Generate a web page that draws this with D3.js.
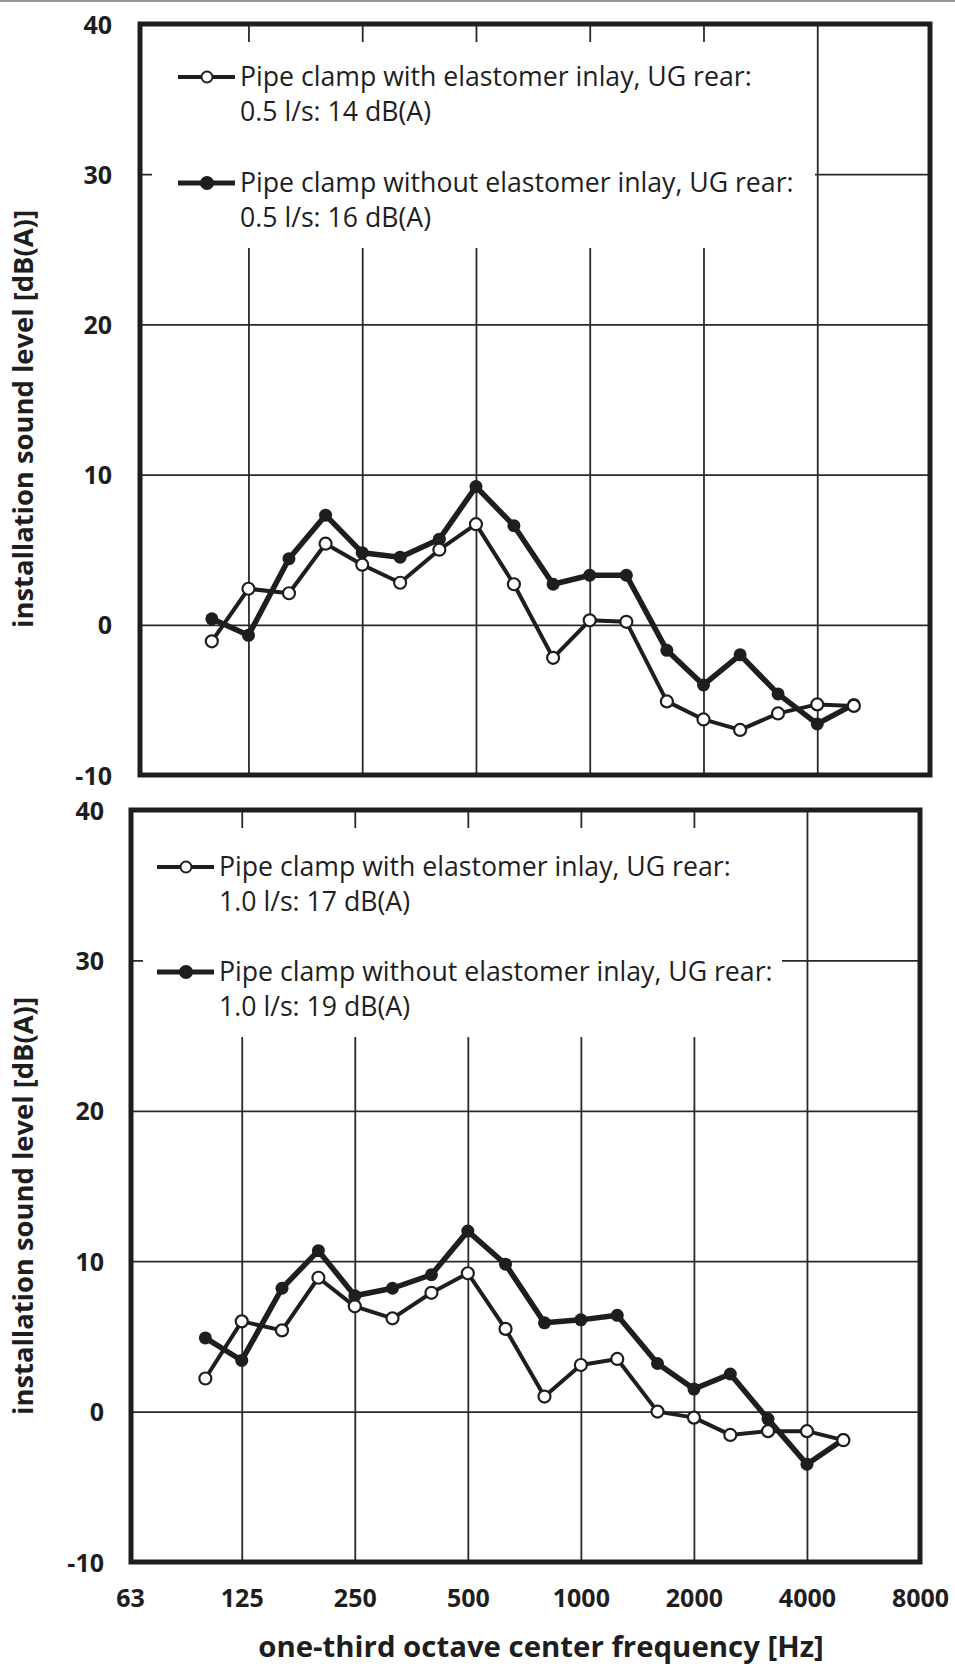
<!DOCTYPE html>
<html>
<head>
<meta charset="utf-8">
<script src="https://cdn.jsdelivr.net/npm/d3@7"></script>
<style>
  body{margin:0;background:#fff;}
  svg{display:block;}
</style>
</head>
<body>
<div class="box"></div>
<script>
// one-third octave bands (Hz) and the tick values of both panels
const freqs=[100,125,160,200,250,315,400,500,630,800,1000,1250,1600,2000,2500,3150,4000,5000];
const xTicks=[63,125,250,500,1000,2000,4000,8000];
const gridX=[125,250,500,1000,2000,4000];
const yTicks=[-10,0,10,20,30,40];
const gridY=[0,10,20,30];

// 0.5 l/s
const withInlay05=[-1.1,2.4,2.1,5.4,4.0,2.8,5.0,6.7,2.7,-2.2,0.3,0.2,-5.1,-6.3,-7.0,-5.9,-5.3,-5.4];
const withoutInlay05=[0.4,-0.7,4.4,7.3,4.8,4.5,5.7,9.2,6.6,2.7,3.3,3.3,-1.7,-4.0,-2.0,-4.6,-6.6,-5.3];
// 1.0 l/s
const withInlay10=[2.2,6.0,5.4,8.9,7.0,6.2,7.9,9.2,5.5,1.0,3.1,3.5,0.0,-0.4,-1.55,-1.3,-1.3,-1.9];
const withoutInlay10=[4.9,3.4,8.2,10.7,7.7,8.2,9.1,12.0,9.8,5.9,6.1,6.4,3.2,1.5,2.5,-0.5,-3.5,-1.85];

const legend05=[['Pipe clamp with elastomer inlay, UG rear:','0.5 l/s: 14 dB(A)'],
                ['Pipe clamp without elastomer inlay, UG rear:','0.5 l/s: 16 dB(A)']];
const legend10=[['Pipe clamp with elastomer inlay, UG rear:','1.0 l/s: 17 dB(A)'],
                ['Pipe clamp without elastomer inlay, UG rear:','1.0 l/s: 19 dB(A)']];
const yTitle='installation sound level [dB(A)]';
const xTitle='one-third octave center frequency [Hz]';

const W=955,H=1669;
const ink='#1e1e1e';
const font='"Open Sans", sans-serif';
const svg=d3.select('.box').append('svg').attr('width',W).attr('height',H).style('background','white');

// scan edge at the very top
svg.append('line').attr('x1',0).attr('x2',W).attr('y1',1).attr('y2',1).attr('stroke','#9a9a9a').attr('stroke-width',2);

const fit=(sel,w)=>{
  const fs=parseFloat(sel.attr('font-size'));
  const nf=fs*w/sel.node().getComputedTextLength();
  sel.attr('font-size',nf);
  return nf;
};

const panels=[
  {xr:[136,931],frame:[140,930],yr:[775,24],box:[152,42,815,248],lx:178,ly:[77,183],
   tickRight:112,labelY:419,open:withInlay05,filled:withoutInlay05,legend:legend05},
  {xr:[130,920],frame:[131,920],yr:[1562,810],box:[143,828,782,1037],lx:157,ly:[867,972],
   tickRight:104,labelY:1206,open:withInlay10,filled:withoutInlay10,legend:legend10}
];

panels.forEach((p,pi)=>{
  const x=d3.scaleLog().domain([63,8000]).range(p.xr);
  const y=d3.scaleLinear().domain([-10,40]).range(p.yr);
  const g=svg.append('g');
  const fL=p.frame[0],fR=p.frame[1],fT=y(40),fB=y(-10);

  // grid through the library axes
  const gx=g.append('g').attr('transform',`translate(0,${fT})`)
     .call(d3.axisBottom(x).tickValues(gridX).tickSize(fB-fT).tickFormat(''));
  gx.select('.domain').remove();
  gx.selectAll('text').remove();
  gx.selectAll('line').attr('stroke','#2a2a2a').attr('stroke-width',1.8);
  const gy=g.append('g').attr('transform',`translate(${fL},0)`)
     .call(d3.axisRight(y).tickValues(gridY).tickSize(fR-fL).tickFormat(''));
  gy.select('.domain').remove();
  gy.selectAll('text').remove();
  gy.selectAll('line').attr('stroke','#2a2a2a').attr('stroke-width',1.8);

  // white legend field that hides the grid
  g.append('rect').attr('x',p.box[0]).attr('y',p.box[1])
   .attr('width',p.box[2]-p.box[0]).attr('height',p.box[3]-p.box[1]).attr('fill','white');

  const line=d3.line().x((d,i)=>x(freqs[i])).y(d=>y(d));
  g.append('path').datum(p.open).attr('d',line).attr('fill','none')
   .attr('stroke',ink).attr('stroke-width',4).attr('stroke-linejoin','round');
  g.append('path').datum(p.filled).attr('d',line).attr('fill','none')
   .attr('stroke',ink).attr('stroke-width',5.5).attr('stroke-linejoin','round');
  g.selectAll('.dotF').data(p.filled).enter().append('circle')
   .attr('cx',(d,i)=>x(freqs[i])).attr('cy',d=>y(d)).attr('r',6.5).attr('fill',ink);
  g.selectAll('.dotO').data(p.open).enter().append('circle')
   .attr('cx',(d,i)=>x(freqs[i])).attr('cy',d=>y(d)).attr('r',6)
   .attr('fill','white').attr('stroke',ink).attr('stroke-width',2.2);

  // frame
  g.append('rect').attr('x',fL).attr('y',fT).attr('width',fR-fL).attr('height',fB-fT)
   .attr('fill','none').attr('stroke',ink).attr('stroke-width',5);

  // y tick labels
  const ay=g.append('g').attr('transform',`translate(${p.tickRight},0)`)
     .call(d3.axisLeft(y).tickValues(yTicks).tickSize(0).tickPadding(0).tickFormat(d=>String(d)));
  ay.select('.domain').remove();
  ay.selectAll('text').attr('font-family',font).attr('font-weight',700)
    .attr('font-size',25).attr('fill',ink).attr('dy','0.36em');

  // legend
  let legendSize=24;
  p.legend.forEach((item,k)=>{
    const ly=p.ly[k];
    g.append('line').attr('x1',p.lx).attr('x2',p.lx+57).attr('y1',ly).attr('y2',ly)
     .attr('stroke',ink).attr('stroke-width',k==0?4:5);
    g.append('circle').attr('cx',p.lx+29).attr('cy',ly).attr('r',k==0?5.5:6)
     .attr('fill',k==0?'white':ink).attr('stroke',ink).attr('stroke-width',2);
    item.forEach((t,j)=>{
      const tx=g.append('text').attr('x',p.lx+62).attr('y',ly+9+j*35)
        .attr('font-family',font).attr('font-size',legendSize)
        .attr('fill',ink).text(t);
      if(j==0&&k==0) legendSize=fit(tx,512);
    });
  });

  // y title
  const yt=svg.append('text').attr('transform',`translate(33,${p.labelY}) rotate(-90)`)
    .attr('text-anchor','middle').attr('font-family',font)
    .attr('font-weight',700).attr('font-size',24).attr('fill',ink).text(yTitle);
  fit(yt,418);

  // x tick labels under the lower panel only
  if(pi==1){
    const ax=g.append('g').attr('transform',`translate(0,${fB})`)
       .call(d3.axisBottom(x).tickValues(xTicks).tickSize(0).tickPadding(0).tickFormat(d=>String(d)));
    ax.select('.domain').remove();
    ax.selectAll('text').attr('font-family',font).attr('font-weight',700)
      .attr('font-size',25).attr('fill',ink).attr('dy',null).attr('y',45);
  }
});

const xt=svg.append('text').attr('x',541).attr('y',1657).attr('text-anchor','middle')
  .attr('font-family',font).attr('font-weight',700).attr('font-size',24)
  .attr('fill',ink).text(xTitle);
fit(xt,566);
</script>
</body>
</html>
